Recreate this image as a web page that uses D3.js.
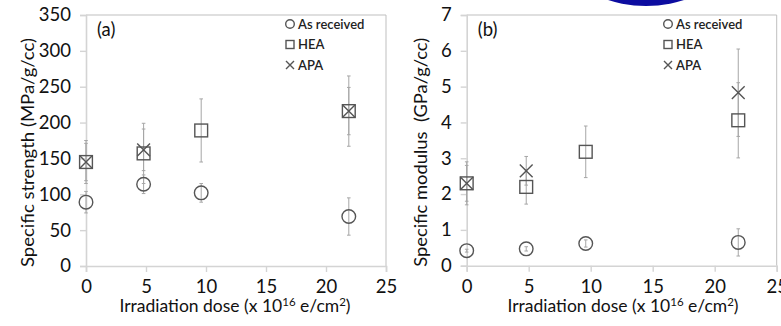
<!DOCTYPE html>
<html><head><meta charset="utf-8">
<script src="https://cdn.jsdelivr.net/npm/d3@7"></script>
<style>
html,body{margin:0;padding:0;background:#fff;}
svg{display:block;font-family:Lato,"Open Sans",sans-serif;}
</style></head>
<body>
<svg id="c" width="781" height="326"></svg>
<script>
// ---- data ----
const dose = [0, 4.8, 9.6, 21.9];
const xTicks = [0, 5, 10, 15, 20, 25];
const seriesNames = ["As received", "HEA", "APA"];

// panel (a): specific strength (MPa/g/cc)
const strengthAsReceived = [89, 114, 102, 69];
const strengthAsReceivedErr = [15, 13, 13, 26];
const strengthHEA = [145, 157, 189, 216];
const strengthHEAErr = [30, 42, 44, 49];
const strengthAPA = [145, 162, null, 216];
const strengthAPAErr = [26, 29, null, 33];
const strengthTicks = [0, 50, 100, 150, 200, 250, 300, 350];

// panel (b): specific modulus (GPa/g/cc)
const modulusAsReceived = [0.42, 0.47, 0.62, 0.65];
const modulusAsReceivedErr = [0.04, 0.06, 0.1, 0.38];
const modulusHEA = [2.3, 2.2, 3.18, 4.06];
const modulusHEAErr = [0.6, 0.48, 0.72, 1.05];
const modulusAPA = [2.3, 2.65, null, 4.83];
const modulusAPAErr = [0.5, 0.4, null, 1.22];
const modulusTicks = [0, 1, 2, 3, 4, 5, 6, 7];

const svg = d3.select("#c");
svg.append("rect").attr("width", 781).attr("height", 326).attr("fill", "#fff");

// decorative blue blob at the top (part of the source image)
svg.append("ellipse").attr("cx", 652).attr("cy", -40).attr("rx", 96).attr("ry", 43).attr("fill", "#e8edf8");
svg.append("circle").attr("cx", 646).attr("cy", -117).attr("r", 123).attr("fill", "#0c0ca0");

const MARK = "#555", ERR = "#a6a6a6", AXIS = "#d4d4d4";

function marker(g, type, x, y, s) {
  if (type === 0) {
    g.append("circle").attr("cx", x).attr("cy", y).attr("r", s)
      .attr("fill", "none").attr("stroke", MARK).attr("stroke-width", 1.4);
  } else if (type === 1) {
    g.append("rect").attr("x", x - s).attr("y", y - s).attr("width", 2 * s).attr("height", 2 * s)
      .attr("fill", "none").attr("stroke", MARK).attr("stroke-width", 1.4);
  } else {
    g.append("path").attr("d", `M${x - s},${y - s}L${x + s},${y + s}M${x - s},${y + s}L${x + s},${y - s}`)
      .attr("fill", "none").attr("stroke", MARK).attr("stroke-width", 1.4);
  }
}

function panel(o) {
  const g = svg.append("g");
  const x = d3.scaleLinear().domain([0, 25]).range([o.x0, o.x1]);
  const y = d3.scaleLinear().domain([0, o.ymax]).range([o.y0, o.y1]);

  // frame (top and right)
  g.append("path").attr("d", `M${o.x0},${o.y1}H${o.x1}V${o.y0}`)
    .attr("fill", "none").attr("stroke", "#bfbfbf").attr("stroke-width", 1);

  // axes
  const xa = g.append("g").attr("transform", `translate(0,${o.y0})`)
    .call(d3.axisBottom(x).tickValues(xTicks).tickSize(6).tickPadding(9).tickFormat(d3.format("d")));
  const ya = g.append("g").attr("transform", `translate(${o.x0},0)`)
    .call(d3.axisLeft(y).tickValues(o.ticks).tickSize(6).tickPadding(9).tickFormat(d3.format("d")));
  [xa, ya].forEach(a => {
    a.select(".domain").attr("stroke", AXIS).attr("stroke-width", 1.6);
    a.selectAll(".tick line").attr("stroke", AXIS).attr("stroke-width", 1.4);
    a.selectAll("text").attr("fill", "#111").attr("font-size", 18.5)
      .attr("font-family", "Lato,sans-serif");
  });
  xa.selectAll("text").attr("dy", "0.66em");

  // error bars + markers
  const series = [[o.ar, o.arErr], [o.hea, o.heaErr], [o.apa, o.apaErr]];
  series.forEach(([vals, errs]) => {
    vals.forEach((v, i) => {
      if (v == null) return;
      const px = x(dose[i]);
      const top = y(v + errs[i]), bot = y(v - errs[i]);
      g.append("line").attr("x1", px).attr("x2", px).attr("y1", top).attr("y2", bot)
        .attr("stroke", ERR).attr("stroke-width", 1);
      [top, bot].forEach(t => g.append("line").attr("x1", px - 1.8).attr("x2", px + 1.8)
        .attr("y1", t).attr("y2", t).attr("stroke", ERR).attr("stroke-width", 1));
    });
  });
  series.forEach(([vals], k) => {
    vals.forEach((v, i) => {
      if (v == null) return;
      marker(g, k, x(dose[i]), y(v), k === 0 ? 6.8 : 6.4);
    });
  });

  // panel label
  g.append("text").attr("x", o.x0 + 11).attr("y", 36).attr("font-size", 18.5).attr("fill", "#111")
    .text(o.label);

  // legend
  seriesNames.forEach((n, i) => {
    const ly = 24 + i * 20.5;
    marker(g, i, o.legX, ly, i === 0 ? 4.3 : 4);
    g.append("text").attr("x", o.legX + 8).attr("y", ly + 4.5).attr("font-size", 13)
      .attr("font-weight", 600).attr("fill", "#222").text(n);
  });

  // y title
  g.append("text").attr("transform", `translate(${o.ytx},${(o.y0 + o.y1) / 2 + 12}) rotate(-90)`)
    .attr("text-anchor", "middle").attr("font-size", 17.5).attr("fill", "#111")
    .attr("textLength", 229).attr("lengthAdjust", "spacingAndGlyphs")
    .style("white-space", "pre").text(o.ytitle);

  // x title
  const xt = g.append("text").attr("x", o.xtx).attr("y", 312).attr("text-anchor", "middle")
    .attr("font-size", 17.5).attr("fill", "#111");
  xt.append("tspan").text("Irradiation dose (x 10");
  xt.append("tspan").attr("dy", -6).attr("font-size", 11.5).text("16");
  xt.append("tspan").attr("dy", 6).text(" e/cm");
  xt.append("tspan").attr("dy", -6).attr("font-size", 11.5).text("2");
  xt.append("tspan").attr("dy", 6).text(")");
}

panel({
  x0: 86, x1: 386, y0: 266, y1: 15, ymax: 350, ticks: strengthTicks,
  ar: strengthAsReceived, arErr: strengthAsReceivedErr,
  hea: strengthHEA, heaErr: strengthHEAErr, apa: strengthAPA, apaErr: strengthAPAErr,
  label: "(a)", legX: 290, ytx: 34, xtx: 235,
  ytitle: "Specific strength (MPa/g/cc)"
});
panel({
  x0: 466.7, x1: 776.7, y0: 265.7, y1: 15, ymax: 7, ticks: modulusTicks,
  ar: modulusAsReceived, arErr: modulusAsReceivedErr,
  hea: modulusHEA, heaErr: modulusHEAErr, apa: modulusAPA, apaErr: modulusAPAErr,
  label: "(b)", legX: 668, ytx: 427, xtx: 623,
  ytitle: "Specific modulus  (GPa/g/cc)"
});
</script>
</body></html>
